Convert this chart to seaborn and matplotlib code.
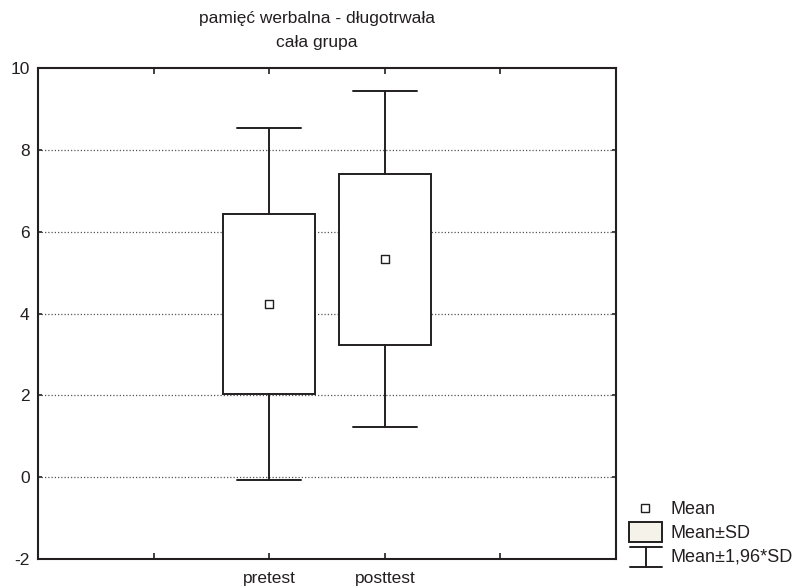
import matplotlib
matplotlib.use("Agg")
import matplotlib.pyplot as plt
from matplotlib.patches import Rectangle
from matplotlib.lines import Line2D
import seaborn as sns
import pandas as pd

# Group summaries: mean and standard deviation of the long-term verbal memory score
groups = ["pretest", "posttest"]
means = [4.23, 5.33]
sds = [2.19, 2.09]
z_whisker = 1.96

y_ticks = [-2, 0, 2, 4, 6, 8, 10]
title_lines = ["pamięć werbalna - długotrwała", "cała grupa"]
legend_labels = ["Mean", "Mean±SD", "Mean±1,96*SD"]

sns.set_style("white")
plt.rcParams["font.family"] = ["Liberation Sans", "DejaVu Sans"]
INK = "#231f20"

df = pd.DataFrame({"group": groups, "mean": means, "sd": sds})
df["pos"] = range(len(df))

fig = plt.figure(figsize=(7.94, 5.87), dpi=100)
ax = fig.add_axes([38 / 794, 1 - 559 / 587, (616 - 38) / 794, (559 - 68) / 587])

# Box = mean ± SD, whiskers = mean ± 1.96·SD
stats = []
for _, r in df.iterrows():
    stats.append({
        "label": r["group"],
        "med": r["mean"],
        "mean": r["mean"],
        "q1": r["mean"] - r["sd"],
        "q3": r["mean"] + r["sd"],
        "whislo": r["mean"] - z_whisker * r["sd"],
        "whishi": r["mean"] + z_whisker * r["sd"],
        "fliers": [],
    })

line_kw = dict(color=INK, linewidth=1.4)
ax.bxp(stats, positions=df["pos"].tolist(), widths=0.8, capwidths=0.55,
       patch_artist=True, showfliers=False, showmeans=False,
       boxprops=dict(facecolor="white", edgecolor=INK, linewidth=1.4),
       whiskerprops=line_kw, capprops=line_kw,
       medianprops=dict(linewidth=0), zorder=3)

# Mean markers
sns.scatterplot(data=df, x="pos", y="mean", marker="s", s=34,
                color="white", edgecolor=INK, linewidth=1.0, zorder=5, ax=ax,
                legend=False)

ax.set_xlim(-2, 3)
ax.set_ylim(-2, 10)
ax.set_xticks([-1, 0, 1, 2])
ax.set_xticklabels(["", groups[0], groups[1], ""])
ax.set_yticks(y_ticks)
ax.set_yticklabels([str(t) for t in y_ticks])
ax.set_xlabel("")
ax.set_ylabel("")

for yv in y_ticks[1:-1]:
    ax.axhline(yv, color="#555555", linestyle=(0, (1.0, 1.6)), linewidth=0.9, zorder=1)

for s in ax.spines.values():
    s.set_visible(True)
    s.set_color(INK)
    s.set_linewidth(1.5)

ax.tick_params(axis="x", which="both", direction="in", length=4, width=1.2,
               top=True, bottom=True, colors=INK, labelsize=12.5, pad=9,
               labelcolor=INK)
ax.tick_params(axis="y", which="both", direction="in", length=3, width=1.2,
               left=True, right=True, colors=INK, labelsize=12.5, pad=6,
               labelcolor=INK)

# Title
fig.text(317 / 794, 1 - 19 / 587, title_lines[0], ha="center", va="center",
         fontsize=12.5, color=INK)
fig.text(317 / 794, 1 - 43 / 587, title_lines[1], ha="center", va="center",
         fontsize=12.5, color=INK)

# Legend drawn in figure pixel space
H = 587
def fy(y):
    return 1 - y / H
def fx(x):
    return x / 794

fig.add_artist(Line2D([fx(645)], [fy(508)], marker="s", markersize=5.5,
                      markerfacecolor="white", markeredgecolor=INK,
                      markeredgewidth=1.0, linestyle="none"))
fig.add_artist(Rectangle((fx(629), fy(542)), fx(662) - fx(629), fy(522) - fy(542),
                         facecolor="#f5f2ea", edgecolor=INK, linewidth=1.4))
fig.add_artist(Line2D([fx(630), fx(662)], [fy(547), fy(547)], color=INK, linewidth=1.4))
fig.add_artist(Line2D([fx(630), fx(662)], [fy(567), fy(567)], color=INK, linewidth=1.4))
fig.add_artist(Line2D([fx(646), fx(646)], [fy(547), fy(567)], color=INK, linewidth=1.4))

for lbl, yy in zip(legend_labels, [509, 533, 557]):
    fig.text(fx(670), fy(yy), lbl, ha="left", va="center", fontsize=13, color=INK)

fig.savefig("out.png", dpi=100, facecolor="white")
